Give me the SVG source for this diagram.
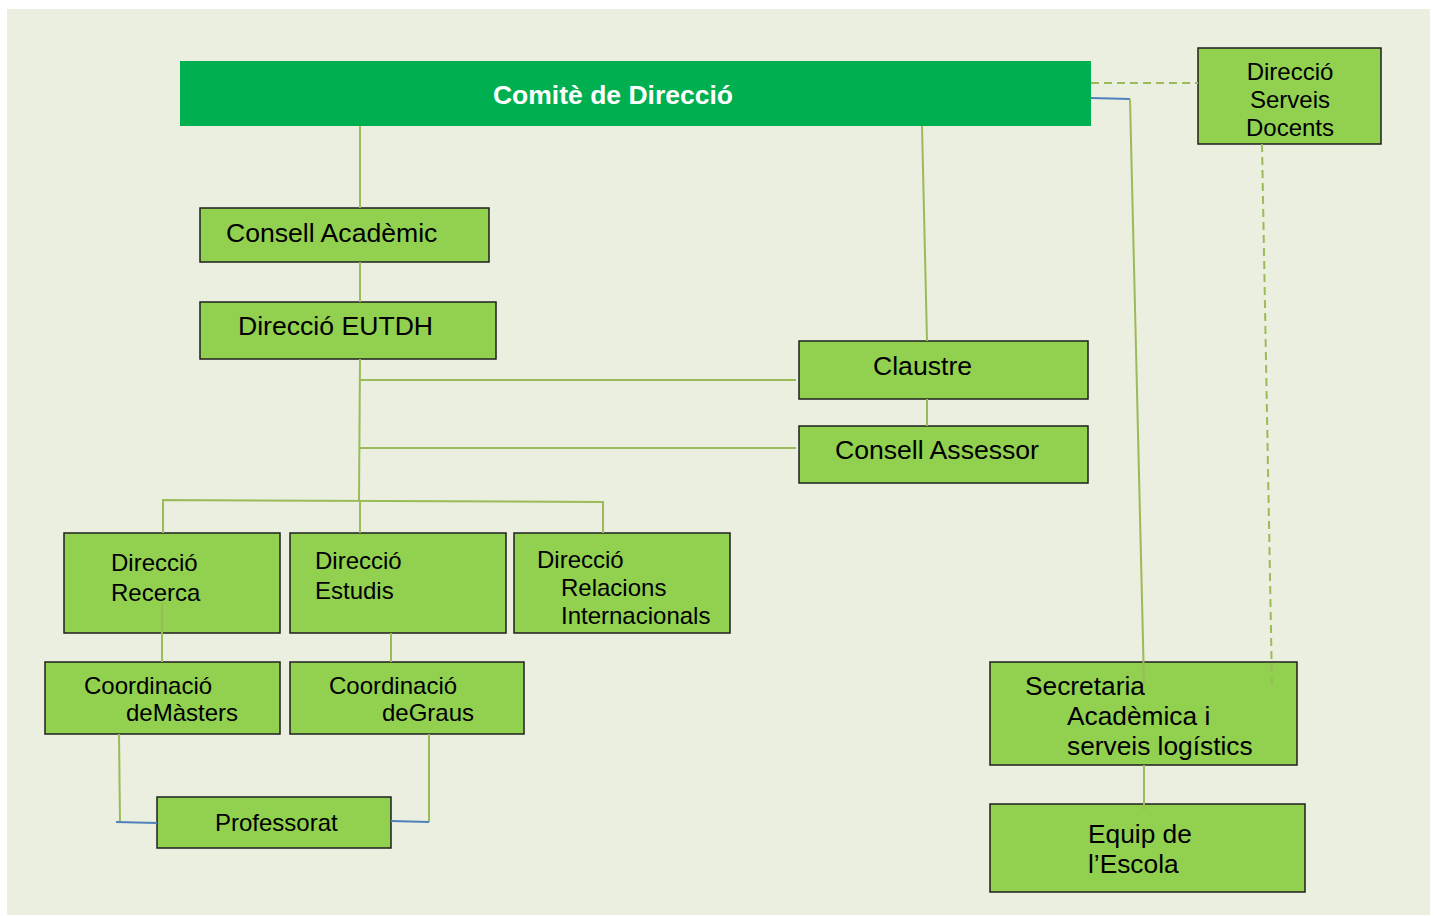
<svg xmlns="http://www.w3.org/2000/svg" width="1437" height="916" viewBox="0 0 1437 916">
<style>
.box{fill:#92D050;stroke:#1f1f1f;stroke-width:1.5}
.t{font-family:"Liberation Sans",Arial,sans-serif;fill:#000}
.c{stroke:#9BBB59;stroke-width:2;fill:none}
.b{stroke:#4F81BD;stroke-width:2;fill:none}
.d{stroke:#9BBB59;stroke-width:2;fill:none;stroke-dasharray:8 5}
</style>
<rect width="1437" height="916" fill="#fff"/>
<rect x="7" y="9" width="1423" height="906" fill="#EBEFDF"/>
<g id="comite">
<rect x="180" y="61" width="911" height="65" fill="#00B050"/>
<text class="t" x="613" y="104" font-size="26.5" font-weight="bold" style="fill:#fff" text-anchor="middle">Comitè de Direcció</text>
</g>
<g id="serveis-docents">
<rect class="box" x="1198" y="48" width="183" height="96"/>
<text class="t" font-size="24" text-anchor="middle"><tspan x="1290" y="80">Direcció</tspan><tspan x="1290" y="108">Serveis</tspan><tspan x="1290" y="136">Docents</tspan></text>
</g>
<g id="consell-academic">
<rect class="box" x="200" y="208" width="289" height="54"/>
<text class="t" x="226" y="242" font-size="26.6">Consell Acadèmic</text>
</g>
<g id="direccio-eutdh">
<rect class="box" x="200" y="302" width="296" height="57"/>
<text class="t" x="238" y="335" font-size="26.6">Direcció EUTDH</text>
</g>
<g id="claustre">
<rect class="box" x="799" y="341" width="289" height="58"/>
<text class="t" x="873" y="375" font-size="26.6">Claustre</text>
</g>
<g id="consell-assessor">
<rect class="box" x="799" y="426" width="289" height="57"/>
<text class="t" x="835" y="459" font-size="26.6">Consell Assessor</text>
</g>
<g id="direccio-recerca">
<rect class="box" x="64" y="533" width="216" height="100"/>
<text class="t" font-size="24"><tspan x="111" y="571">Direcció</tspan><tspan x="111" y="601">Recerca</tspan></text>
</g>
<g id="direccio-estudis">
<rect class="box" x="290" y="533" width="216" height="100"/>
<text class="t" font-size="24"><tspan x="315" y="569">Direcció</tspan><tspan x="315" y="599">Estudis</tspan></text>
</g>
<g id="direccio-relacions">
<rect class="box" x="514" y="533" width="216" height="100"/>
<text class="t" font-size="24"><tspan x="537" y="568">Direcció</tspan><tspan x="561" y="596">Relacions</tspan><tspan x="561" y="624">Internacionals</tspan></text>
</g>
<g id="coord-masters">
<rect class="box" x="45" y="662" width="235" height="72"/>
<text class="t" font-size="24"><tspan x="84" y="694">Coordinació</tspan><tspan x="126" y="721">deMàsters</tspan></text>
</g>
<g id="coord-graus">
<rect class="box" x="290" y="662" width="234" height="72"/>
<text class="t" font-size="24"><tspan x="329" y="694">Coordinació</tspan><tspan x="382" y="721">deGraus</tspan></text>
</g>
<g id="professorat">
<rect class="box" x="157" y="797" width="234" height="51"/>
<text class="t" x="215" y="831" font-size="24">Professorat</text>
</g>
<g id="secretaria">
<rect class="box" x="990" y="662" width="307" height="103"/>
<text class="t" font-size="26.3"><tspan x="1025" y="695">Secretaria</tspan><tspan x="1067" y="725">Acadèmica i</tspan><tspan x="1067" y="755">serveis logístics</tspan></text>
</g>
<g id="equip-escola">
<rect class="box" x="990" y="804" width="315" height="88"/>
<text class="t" font-size="26.3"><tspan x="1088" y="843">Equip de</tspan><tspan x="1088" y="873">l’Escola</tspan></text>
</g>
<g id="connectors">
<line class="c" x1="360" y1="126" x2="360" y2="208"/>
<line class="c" x1="360" y1="262" x2="360" y2="302"/>
<line class="c" x1="922" y1="126" x2="927" y2="341"/>
<line class="c" x1="927" y1="399" x2="927" y2="426"/>
<line class="c" x1="360" y1="359" x2="359" y2="500"/>
<line class="c" x1="360" y1="380" x2="796" y2="380"/>
<line class="c" x1="360" y1="448" x2="796" y2="448"/>
<polyline class="c" points="163,533 163,500 603,502 603,533"/>
<line class="c" x1="360" y1="500" x2="360" y2="533"/>
<line class="c" x1="162" y1="603" x2="162" y2="662"/>
<line class="c" x1="391" y1="633" x2="391" y2="662"/>
<line class="c" x1="119" y1="734" x2="120" y2="822"/>
<line class="b" x1="116" y1="822" x2="157" y2="823"/>
<line class="c" x1="429" y1="734" x2="429" y2="822"/>
<line class="b" x1="391" y1="821" x2="429" y2="822"/>
<line class="b" x1="1091" y1="98" x2="1130" y2="99"/>
<line class="c" x1="1130" y1="99" x2="1144" y2="683"/>
<line class="d" x1="1091" y1="83" x2="1198" y2="83"/>
<line class="d" x1="1262" y1="144" x2="1272" y2="685"/>
<line class="c" x1="1144" y1="765" x2="1144" y2="810"/>
</g>
</svg>
